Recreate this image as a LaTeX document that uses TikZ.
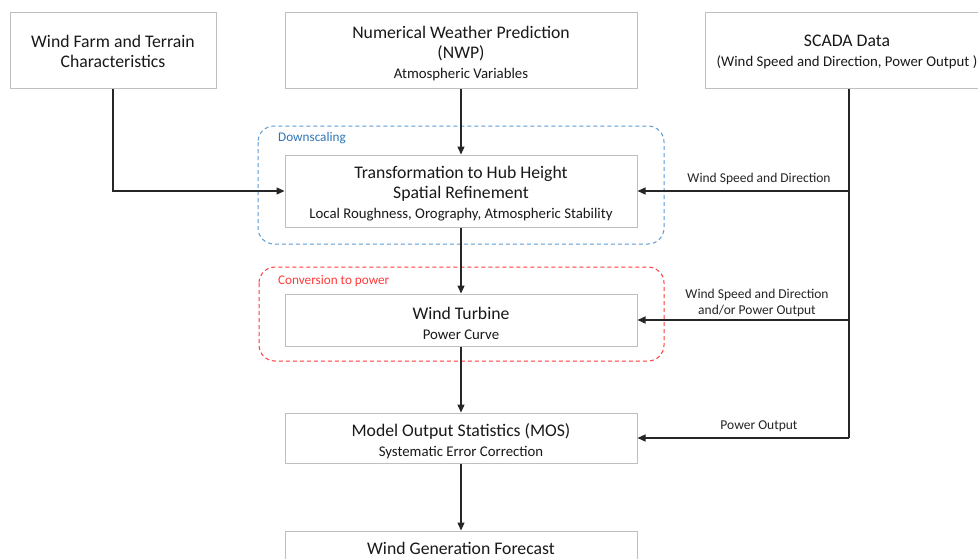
\documentclass[tikz,border=0pt]{standalone}
\usepackage{fontspec}
\setmainfont{Carlito}
\usetikzlibrary{arrows.meta}
\definecolor{boxgray}{HTML}{BFBFBF}
\definecolor{linegray}{HTML}{262626}
\definecolor{dsblue}{HTML}{5B9BD5}
\definecolor{dstext}{HTML}{2E75B6}
\definecolor{cvred}{HTML}{FF3B3B}
\newcommand{\subline}[1]{{\fontsize{14.8}{20}\selectfont #1}}
\newcommand{\toprule}{\rule{0pt}{18.5pt}}
\begin{document}
\begin{tikzpicture}[x=1pt,y=-1pt,
  box/.style={draw=boxgray,line width=1pt,fill=white,inner sep=0pt,align=center,
    font=\fontsize{17.7}{20}\selectfont,text=black!90},
  lbl/.style={font=\fontsize{13.5}{15.5}\selectfont,text=black!85,align=center,inner sep=0pt},
  grplbl/.style={anchor=west,font=\fontsize{13.2}{15}\selectfont,inner sep=0pt},
  arr/.style={draw=linegray,line width=1.3pt,-{Triangle[length=8pt,width=7pt]}},
  ln/.style={draw=linegray,line width=1.3pt},
  grp/.style={dashed,dash pattern=on 4pt off 3pt,line width=1pt,rounded corners=16pt}]
\useasboundingbox (0,0) rectangle (978,558);
\fill[white] (0,0) rectangle (978,558);
% groups
\draw[grp,draw=dsblue] (258,126) rectangle (664,244);
\node[grplbl,text=dstext] (dslbl) at (278,138.5) {Downscaling};
\draw[grp,draw=cvred] (259,267) rectangle (664,361);
\node[grplbl,text=cvred] (cvlbl) at (278,281.5) {Conversion to power};
% boxes
\node[box,minimum width=206pt,minimum height=76pt] (farm) at (113,50) {\rule{0pt}{15pt}Wind Farm and Terrain\\Characteristics};
\node[box,minimum width=352pt,minimum height=76pt] (nwp) at (461,50)
  {\toprule Numerical Weather Prediction\\(NWP)\\\subline{Atmospheric Variables}};
\node[box,minimum width=288pt,minimum height=76pt] (scada) at (849,50) {};
\node[box,draw=none,fill=none] (scadat) at (847,52)
  {SCADA Data\\\subline{(Wind Speed and Direction, Power Output )}};
\node[box,minimum width=352pt,minimum height=72pt] (trans) at (461,191)
  {\toprule Transformation to Hub Height\\Spatial Refinement\\\subline{Local Roughness, Orography, Atmospheric Stability}};
\node[box,minimum width=352pt,minimum height=52pt] (turb) at (461,320)
  {\toprule Wind Turbine\\\subline{Power Curve}};
\node[box,minimum width=352pt,minimum height=50pt] (mos) at (461,438)
  {\toprule Model Output Statistics (MOS)\\\subline{Systematic Error Correction}};
\node[box,minimum width=352pt,minimum height=34pt] (fc) at (461,548) {Wind Generation Forecast};
% connectors
\draw[arr] (nwp.south) -- (trans.north);
\draw[arr] (trans.south) -- (turb.north);
\draw[arr] (turb.south) -- (mos.north);
\draw[arr] (mos.south) -- (fc.north);
\draw[arr] (farm.south) |- (trans.west);
\draw[ln] (scada.south) -- (scada.south |- mos.east);
\draw[arr] (scada.south |- mos.east) -- (mos.east);
\draw[arr] (scada.south |- trans.east) -- (trans.east);
\draw[arr] (scada.south |- turb.east) -- (turb.east);
% labels
\node[lbl] (l1) at (759,179) {Wind Speed and Direction};
\node[lbl] (l2) at (757,303) {Wind Speed and Direction\\and/or Power Output};
\node[lbl] (l3) at (759,426) {Power Output};
\end{tikzpicture}
\end{document}
